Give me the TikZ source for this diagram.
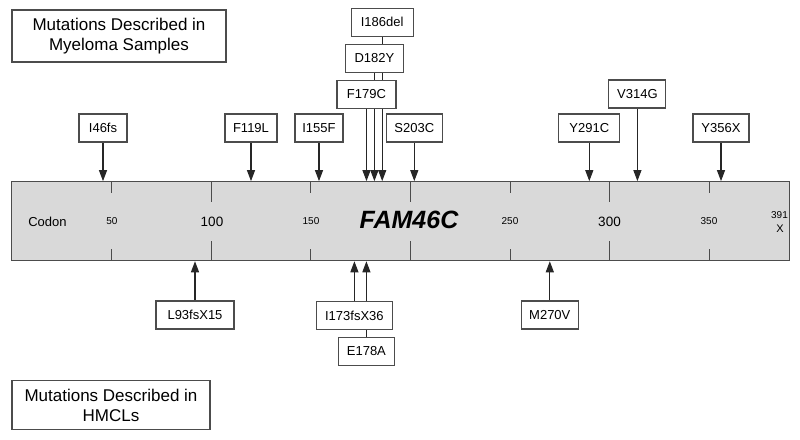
\documentclass[tikz,border=0pt]{standalone}
\usepackage{fontspec}
\setmainfont{Liberation Sans}
\usetikzlibrary{arrows.meta,backgrounds}
\definecolor{edgecol}{gray}{0.3}
\definecolor{barfill}{gray}{0.85}
\begin{document}
\begin{tikzpicture}[x=1pt,y=-1pt,
  mut/.style={draw=edgecol, line width=1.1pt, fill=white, minimum height=28pt, inner sep=0pt, font=\fontsize{13}{15}\selectfont},
  titlebox/.style={draw=edgecol, line width=1.1pt, fill=white, inner sep=0pt, align=center, font=\fontsize{17}{20}\selectfont},
  arr/.style={draw=black!85, line width=1.1pt, -{Triangle[width=8pt,length=11pt]}},
  tickline/.style={draw=black!70, line width=1pt},
  small/.style={font=\fontsize{10}{12}\selectfont, inner sep=0pt},
  big/.style={font=\fontsize{13.5}{15}\selectfont, inner sep=0pt}]
\useasboundingbox (0,0) rectangle (800,439);

% titles
\node[titlebox, minimum width=214pt, minimum height=52pt] (myel) at (119,36) {Mutations Described in\\Myeloma Samples};
\node[titlebox, minimum width=198pt, minimum height=49pt] (hmcl) at (111,405) {Mutations Described in\\HMCLs};

% bar
\node[draw=edgecol, fill=barfill, line width=1.1pt, minimum width=777.8pt, minimum height=79pt, inner sep=0pt] (bar) at (400.4,221.2) {};

% ticks
\foreach \x in {111,310.7,510,709} {
  \draw[tickline] (\x,181.7) -- (\x,193);
  \draw[tickline] (\x,249) -- (\x,260.7);
}
\foreach \x in {211.5,410.5,609.5} {
  \draw[tickline] (\x,181.7) -- (\x,202);
  \draw[tickline] (\x,241) -- (\x,260.7);
}

% bar labels
\node[font=\fontsize{13}{15}\selectfont, inner sep=0pt] (codon) at (47.5,221.5) {Codon};
\node[small] (c50) at (112,221.5) {50};
\node[big] (c100) at (212,221.5) {100};
\node[small] (c150) at (311,221.5) {150};
\node[font=\fontsize{25}{28}\selectfont\bfseries\itshape, inner sep=0pt] (fam) at (409,219.7) {FAM46C};
\node[small] (c250) at (510,221.5) {250};
\node[big] (c300) at (609.5,221.5) {300};
\node[small] (c350) at (709,221.5) {350};
\node[small] (c391) at (779.5,215) {391};
\node[small, font=\fontsize{11}{12}\selectfont] (cx) at (780,228.3) {X};

% top mutations
\node[mut, minimum width=48pt] (i46) at (103,128) {I46fs};
\node[mut, minimum width=52pt] (f119) at (251,128) {F119L};
\node[mut, minimum width=48pt] (i155) at (319,128) {I155F};
\node[mut, minimum width=59pt] (f179) at (366.5,94.2) {F179C};
\node[mut, minimum width=57.6pt] (d182) at (374.4,58.3) {D182Y};
\node[mut, minimum width=62pt] (i186) at (382.2,22.2) {I186del};
\node[mut, minimum width=56pt] (s203) at (414.3,128) {S203C};
\node[mut, minimum width=61pt] (y291) at (589.3,128) {Y291C};
\node[mut, minimum width=57pt] (v314) at (637.4,94) {V314G};
\node[mut, minimum width=56pt] (y356) at (721,128) {Y356X};

% bottom mutations
\node[mut, minimum width=78pt] (l93) at (195,315) {L93fsX15};
\node[mut, minimum width=75.6pt] (i173) at (354.4,315.5) {I173fsX36};
\node[mut, minimum width=55.3pt] (e178) at (366.4,351.2) {E178A};
\node[mut, minimum width=57pt] (m270) at (549.8,315) {M270V};

\begin{pgfonlayer}{background}
\foreach \n in {i46,f119,i155,f179,d182,i186,s203,y291,v314,y356} {
  \draw[arr] (\n.south) -- (\n.south |- bar.north);
}
\foreach \n in {l93,i173,e178,m270} {
  \draw[arr] (\n.north) -- (\n.north |- bar.south);
}
\end{pgfonlayer}
\end{tikzpicture}
\end{document}
